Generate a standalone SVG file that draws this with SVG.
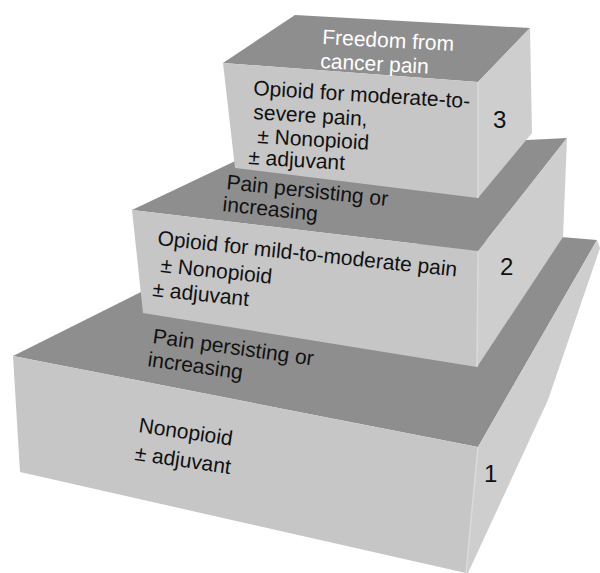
<svg xmlns="http://www.w3.org/2000/svg" width="600" height="573" viewBox="0 0 600 573">
<style>
.top{fill:#8e8e8e}
.front{fill:#c6c6c6}
.side{fill:#cecece}
.edge{fill:none;stroke:#dadada;stroke-width:1.5}
.t{font-family:"Liberation Sans",Arial,sans-serif;font-size:21px;fill:#111}
.w{fill:#ffffff}
.n{font-family:"Liberation Sans",Arial,sans-serif;font-size:24px;fill:#111}
</style>
<rect width="600" height="573" fill="#ffffff"/>
<g id="step1">
<polygon class="top" points="13,356 145,290 300,250 561,237 597,240 478,447"/>
<polygon class="front" points="13,356 478,447 466,573 20,472"/>
<polygon class="side" points="478,447 597,240 600,248 548,400 468,573 466,573"/>
<line class="edge" x1="478" y1="447" x2="466" y2="573"/>
<text class="t" transform="translate(152,343) rotate(8)">Pain persisting or</text>
<text class="t" transform="translate(147,366) rotate(8)">increasing</text>
<text class="t" transform="translate(138,432) rotate(8.3)">Nonopioid</text>
<text class="t" transform="translate(134,460) rotate(8.3)">± adjuvant</text>
<text class="n" x="484" y="482">1</text>
</g>
<g id="step2">
<polygon class="top" points="132,210 250,154 567,138 478,251"/>
<polygon class="front" points="132,210 478,251 477,367 143,313"/>
<polygon class="side" points="478,251 567,138 563,237 477,367"/>
<line class="edge" x1="478" y1="251" x2="477" y2="367"/>
<text class="t" transform="translate(226,189) rotate(6)">Pain persisting or</text>
<text class="t" transform="translate(222,211) rotate(6)">increasing</text>
<text class="t" transform="translate(157,245) rotate(6)">Opioid for mild-to-moderate pain</text>
<text class="t" transform="translate(160,272) rotate(6)">± Nonopioid</text>
<text class="t" transform="translate(152,296) rotate(6)">± adjuvant</text>
<text class="n" x="500" y="275">2</text>
</g>
<g id="step3">
<polygon class="top" points="223,63 295,15 530,28 478,82"/>
<polygon class="front" points="223,63 478,82 478,198 235,168"/>
<polygon class="side" points="478,82 530,28 532,133 478,198"/>
<line class="edge" x1="478" y1="82" x2="478" y2="198"/>
<text class="t w" transform="translate(322,44) rotate(3)">Freedom from</text>
<text class="t w" transform="translate(320,68) rotate(3)">cancer pain</text>
<text class="t" transform="translate(253,95) rotate(3.5)">Opioid for moderate-to-</text>
<text class="t" transform="translate(253,119) rotate(3.5)">severe pain,</text>
<text class="t" transform="translate(257,143) rotate(3.5)">± Nonopioid</text>
<text class="t" transform="translate(248,164) rotate(3.5)">± adjuvant</text>
<text class="n" x="493" y="128">3</text>
</g>
</svg>
